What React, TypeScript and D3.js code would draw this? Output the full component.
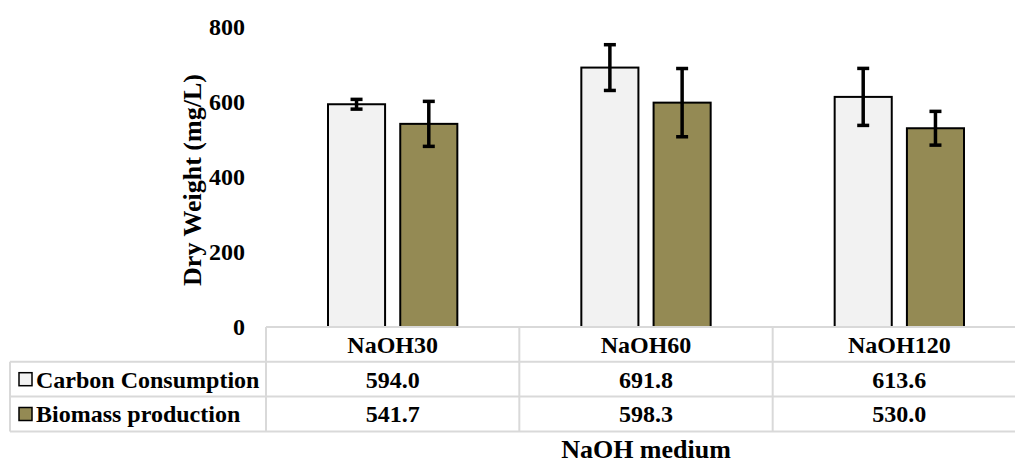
import React from "react";
import * as d3 from "d3";

// Treatments and measured dry weights (mg/L)
const categories = ["NaOH30", "NaOH60", "NaOH120"];
const seriesNames = ["Carbon Consumption", "Biomass production"];
const carbonValues = [594.0, 691.8, 613.6];
const biomassValues = [541.7, 598.3, 530.0];
const carbonErrors = [13, 61, 76];
const biomassErrors = [60, 91, 45];
const yTicks = [0, 200, 400, 600, 800];

const colors = ["#f2f2f2", "#948a54"];
const FONT = "Liberation Serif, Times New Roman, Times, serif";
const GRID = "#d9d9d9";

const txt = (size: number): React.CSSProperties => ({
  fontFamily: FONT,
  fontWeight: 700,
  fontSize: size,
  fill: "#000",
});

export default function App() {
  const width = 1015;
  const height = 464;

  const plotLeft = 266;
  const plotRight = 1026;
  const y = d3.scaleLinear().domain([0, 800]).range([327, 27]);
  const x0 = d3.scaleBand<string>().domain(categories).range([plotLeft, plotRight]);
  const groupInset = 62;
  const x1 = d3
    .scaleBand<string>()
    .domain(seriesNames)
    .range([groupInset, x0.bandwidth() - groupInset])
    .paddingInner(0.21);

  const values = [carbonValues, biomassValues];
  const errors = [carbonErrors, biomassErrors];

  const tableTop = y(0);
  const rowH = 34.8;
  const tableLeft = 10;
  const rows = [tableTop, tableTop + rowH, tableTop + 2 * rowH, tableTop + 3 * rowH];

  return (
    <div style={{ position: "fixed", left: 0, top: 0 }}>
      <svg width={width} height={height} style={{ display: "block", background: "#fff" }}>
        {/* y-axis tick labels */}
        {yTicks.map((t) => (
          <text key={t} x={245} y={y(t)} dy="0.35em" textAnchor="end" style={txt(24)}>
            {t}
          </text>
        ))}
        {/* y-axis title */}
        <text transform={`translate(201, 180) rotate(-90)`} textAnchor="middle" style={txt(26)}>
          Dry Weight (mg/L)
        </text>

        {/* bars */}
        {categories.map((c, ci) => (
          <g key={c} transform={`translate(${x0(c)},0)`}>
            {seriesNames.map((s, si) => {
              const v = values[si][ci];
              const e = errors[si][ci];
              const bx = x1(s)!;
              const bw = x1.bandwidth();
              const cx = bx + bw / 2;
              return (
                <g key={s}>
                  <rect
                    x={bx}
                    y={y(v)}
                    width={bw}
                    height={y(0) - y(v)}
                    fill={colors[si]}
                    stroke="#000"
                    strokeWidth={2}
                  />
                  <line x1={cx} x2={cx} y1={y(v + e)} y2={y(v - e)} stroke="#000" strokeWidth={3.5} />
                  <line x1={cx - 6} x2={cx + 6} y1={y(v + e)} y2={y(v + e)} stroke="#000" strokeWidth={3.5} />
                  <line x1={cx - 6} x2={cx + 6} y1={y(v - e)} y2={y(v - e)} stroke="#000" strokeWidth={3.5} />
                </g>
              );
            })}
          </g>
        ))}

        {/* data table grid */}
        <g stroke={GRID} strokeWidth={2} fill="none">
          <line x1={plotLeft} x2={plotRight} y1={rows[0]} y2={rows[0]} />
          {rows.slice(1).map((ry, i) => (
            <line key={i} x1={tableLeft} x2={plotRight} y1={ry} y2={ry} />
          ))}
          <line x1={tableLeft} x2={tableLeft} y1={rows[1]} y2={rows[3]} />
          {categories.map((c) => (
            <line key={c} x1={x0(c)!} x2={x0(c)!} y1={rows[0]} y2={rows[3]} />
          ))}
        </g>

        {/* category header row */}
        {categories.map((c) => (
          <text
            key={c}
            x={x0(c)! + x0.bandwidth() / 2}
            y={rows[0] + rowH / 2}
            dy="0.35em"
            textAnchor="middle"
            style={txt(24)}
          >
            {c}
          </text>
        ))}

        {/* series rows with legend keys */}
        {seriesNames.map((s, si) => {
          const cy = rows[si + 1] + rowH / 2;
          return (
            <g key={s}>
              <rect x={19} y={cy - 6.5} width={13} height={13} fill={colors[si]} stroke="#000" strokeWidth={1.5} />
              <text x={36} y={cy} dy="0.35em" style={txt(24)}>
                {s}
              </text>
              {categories.map((c, ci) => (
                <text
                  key={c}
                  x={x0(c)! + x0.bandwidth() / 2}
                  y={cy}
                  dy="0.35em"
                  textAnchor="middle"
                  style={txt(24)}
                >
                  {d3.format(".1f")(values[si][ci])}
                </text>
              ))}
            </g>
          );
        })}

        {/* x-axis title */}
        <text x={(plotLeft + plotRight) / 2} y={458} textAnchor="middle" style={txt(26)}>
          NaOH medium
        </text>
      </svg>
    </div>
  );
}
